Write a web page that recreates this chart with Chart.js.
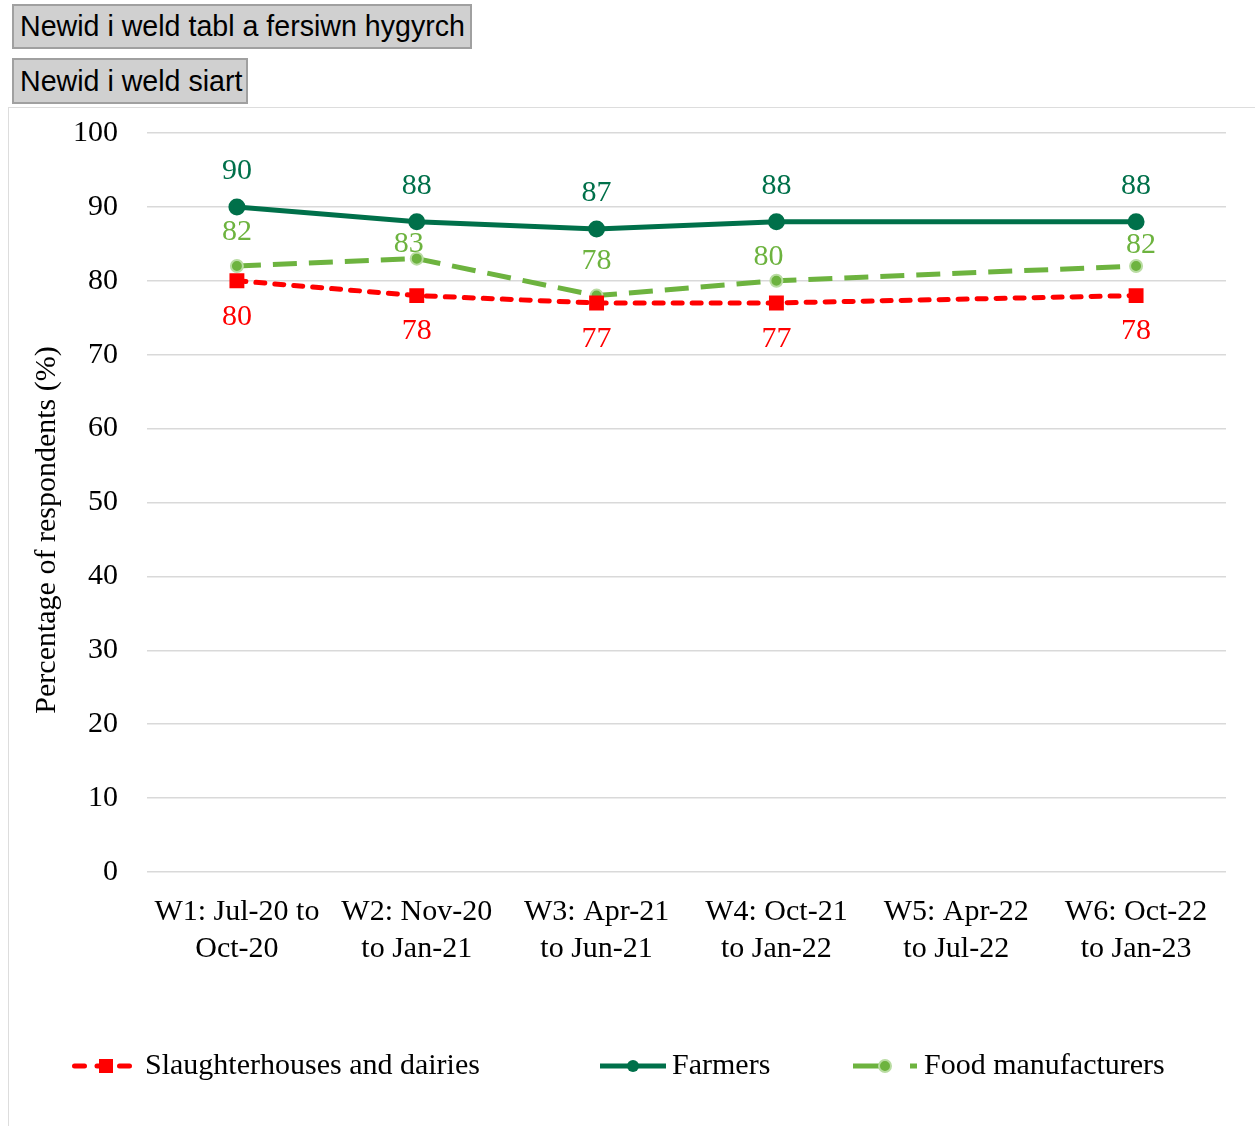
<!DOCTYPE html>
<html>
<head>
<meta charset="utf-8">
<script src="https://cdn.jsdelivr.net/npm/chart.js@4"></script>
<style>
  body { margin: 0; background: #fff; }
  .btn {
    position: absolute; left: 12px; margin: 0; padding: 0 6px;
    font: 28.6px "Liberation Sans", Arial, sans-serif; color: #000;
    background: #d0d0d0; border: 2px solid #a0a0a0; box-sizing: border-box;
    text-align: left; white-space: nowrap;
  }
  #b1 { top: 4px; width: 460px; height: 45px; }
  #b2 { top: 58px; width: 236px; height: 46px; }
  #frame {
    position: absolute; left: 8px; top: 107px; width: 1247px; height: 1019px;
    border-top: 1px solid #ddd; border-left: 1px solid #ddd; box-sizing: border-box;
  }
</style>
</head>
<body>
<button class="btn" id="b1">Newid i weld tabl a fersiwn hygyrch</button>
<button class="btn" id="b2">Newid i weld siart</button>
<div id="frame"><canvas id="chart" width="1246" height="1018"></canvas></div>
<script>
const waves = [
  ['W1: Jul-20 to', 'Oct-20'],
  ['W2: Nov-20', 'to Jan-21'],
  ['W3: Apr-21', 'to Jun-21'],
  ['W4: Oct-21', 'to Jan-22'],
  ['W5: Apr-22', 'to Jul-22'],
  ['W6: Oct-22', 'to Jan-23']
];
const slaughterhouses = [80, 78, 77, 77, null, 78];
const farmers = [90, 88, 87, 88, null, 88];
const foodManufacturers = [82, 83, 78, 80, null, 82];
const yTitle = 'Percentage of respondents (%)';

const serif = '"Liberation Serif", "Times New Roman", serif';
const RED = '#ff0000';
const DARK = '#00704a';
const LIGHT = '#6db33f';

// value labels next to each point
const valueLabels = {
  id: 'valueLabels',
  afterDatasetsDraw(chart) {
    const ctx = chart.ctx;
    ctx.save();
    ctx.font = '30px ' + serif;
    ctx.textAlign = 'center';
    ctx.textBaseline = 'middle';
    chart.data.datasets.forEach((ds, i) => {
      const meta = chart.getDatasetMeta(i);
      meta.data.forEach((pt, j) => {
        const v = ds.data[j];
        if (v == null) return;
        const off = ds.labelOffset[j];
        ctx.fillStyle = ds.borderColor;
        ctx.fillText(String(v), pt.x + (ds.labelShiftX ? ds.labelShiftX[j] : 0), pt.y + off);
      });
    });
    ctx.restore();
  }
};

// axis title sits a bit below the middle in the original, so draw it by hand
const axisTitle = {
  id: 'axisTitle',
  afterDraw(chart) {
    const ctx = chart.ctx;
    ctx.save();
    ctx.translate(38, 422);
    ctx.rotate(-Math.PI / 2);
    ctx.font = '30px ' + serif;
    ctx.fillStyle = '#000';
    ctx.textAlign = 'center';
    ctx.textBaseline = 'middle';
    ctx.fillText(yTitle, 0, 0);
    ctx.restore();
  }
};

// legend drawn like the original: line sample + marker + name
const lineLegend = {
  id: 'lineLegend',
  afterDraw(chart) {
    const ctx = chart.ctx;
    const y = 958;
    const items = [
      { ds: 0, x0: 65.5, x1: 124, tx: 136, mx: 97 },
      { ds: 1, x0: 591, x1: 657, tx: 663, mx: 33 },
      { ds: 2, x0: 844, x1: 908, tx: 915, mx: 32 }
    ];
    ctx.save();
    items.forEach(it => {
      const ds = chart.data.datasets[it.ds];
      ctx.strokeStyle = ds.borderColor;
      ctx.lineWidth = 5;
      ctx.lineCap = ds.borderCapStyle || 'butt';
      ctx.setLineDash(ds.legendDash || []);
      ctx.beginPath();
      ctx.moveTo(it.x0, y);
      ctx.lineTo(it.x1, y);
      ctx.stroke();
      ctx.setLineDash([]);
      const cx = it.ds === 0 ? it.mx : it.x0 + it.mx;
      ctx.fillStyle = ds.pointBackgroundColor;
      if (ds.pointStyle === 'rect') {
        ctx.fillRect(cx - 7, y - 7, 14, 14);
      } else {
        ctx.beginPath();
        ctx.arc(cx, y, 6, 0, Math.PI * 2);
        ctx.fill();
        if (ds.pointBorderWidth) {
          ctx.strokeStyle = ds.pointBorderColor;
          ctx.lineWidth = 2;
          ctx.stroke();
        }
      }
      ctx.fillStyle = '#000';
      ctx.font = '30px ' + serif;
      ctx.textBaseline = 'middle';
      ctx.textAlign = 'left';
      ctx.fillText(ds.label, it.tx, y);
    });
    ctx.restore();
  }
};

new Chart(document.getElementById('chart'), {
  type: 'line',
  data: {
    labels: waves,
    datasets: [
      {
        label: 'Slaughterhouses and dairies',
        data: slaughterhouses,
        borderColor: RED,
        backgroundColor: RED,
        pointBackgroundColor: RED,
        pointBorderColor: RED,
        pointStyle: 'rect',
        pointRadius: 7,
        borderWidth: 5,
        borderCapStyle: 'round',
        borderDash: [9, 10],
        legendDash: [10, 12.5],
        labelOffset: [36, 36, 36, 36, 0, 36]
      },
      {
        label: 'Farmers',
        data: farmers,
        borderColor: DARK,
        backgroundColor: DARK,
        pointBackgroundColor: DARK,
        pointBorderColor: DARK,
        pointStyle: 'circle',
        pointRadius: 6,
        borderWidth: 5,
        labelOffset: [-36, -36, -36, -36, 0, -36]
      },
      {
        label: 'Food manufacturers',
        data: foodManufacturers,
        borderColor: LIGHT,
        backgroundColor: LIGHT,
        pointBackgroundColor: LIGHT,
        pointBorderColor: '#b9dca2',
        pointBorderWidth: 2,
        pointStyle: 'circle',
        pointRadius: 6,
        borderWidth: 5,
        borderDash: [24, 12],
        legendDash: [26, 31, 7, 100],
        labelOffset: [-34, -15, -34, -24, 0, -21],
        labelShiftX: [0, -8, 0, -8, 0, 5]
      }
    ]
  },
  options: {
    responsive: false,
    animation: false,
    spanGaps: true,
    layout: { padding: { top: 25, right: 29, left: 0, bottom: 0 } },
    plugins: {
      legend: { display: false },
      tooltip: { enabled: false }
    },
    scales: {
      y: {
        min: 0,
        max: 100,
        ticks: { stepSize: 10, color: '#000', padding: 29, font: { family: serif, size: 30 } },
        grid: { color: '#d9d9d9', lineWidth: 1.5, drawTicks: false },
        border: { display: false },
        afterFit(scale) {
          scale.width = 138;
          scale.paddingTop = 0;
          scale.paddingBottom = 0;
        }
      },
      x: {
        offset: true,
        ticks: {
          color: '#000', padding: 22, maxRotation: 0, autoSkip: false,
          font: { family: serif, size: 30, lineHeight: 1.23 }
        },
        grid: { display: false, drawTicks: false },
        border: { display: false },
        afterFit(scale) { scale.height = 254; }
      }
    }
  },
  plugins: [valueLabels, axisTitle, lineLegend]
});
</script>
</body>
</html>
